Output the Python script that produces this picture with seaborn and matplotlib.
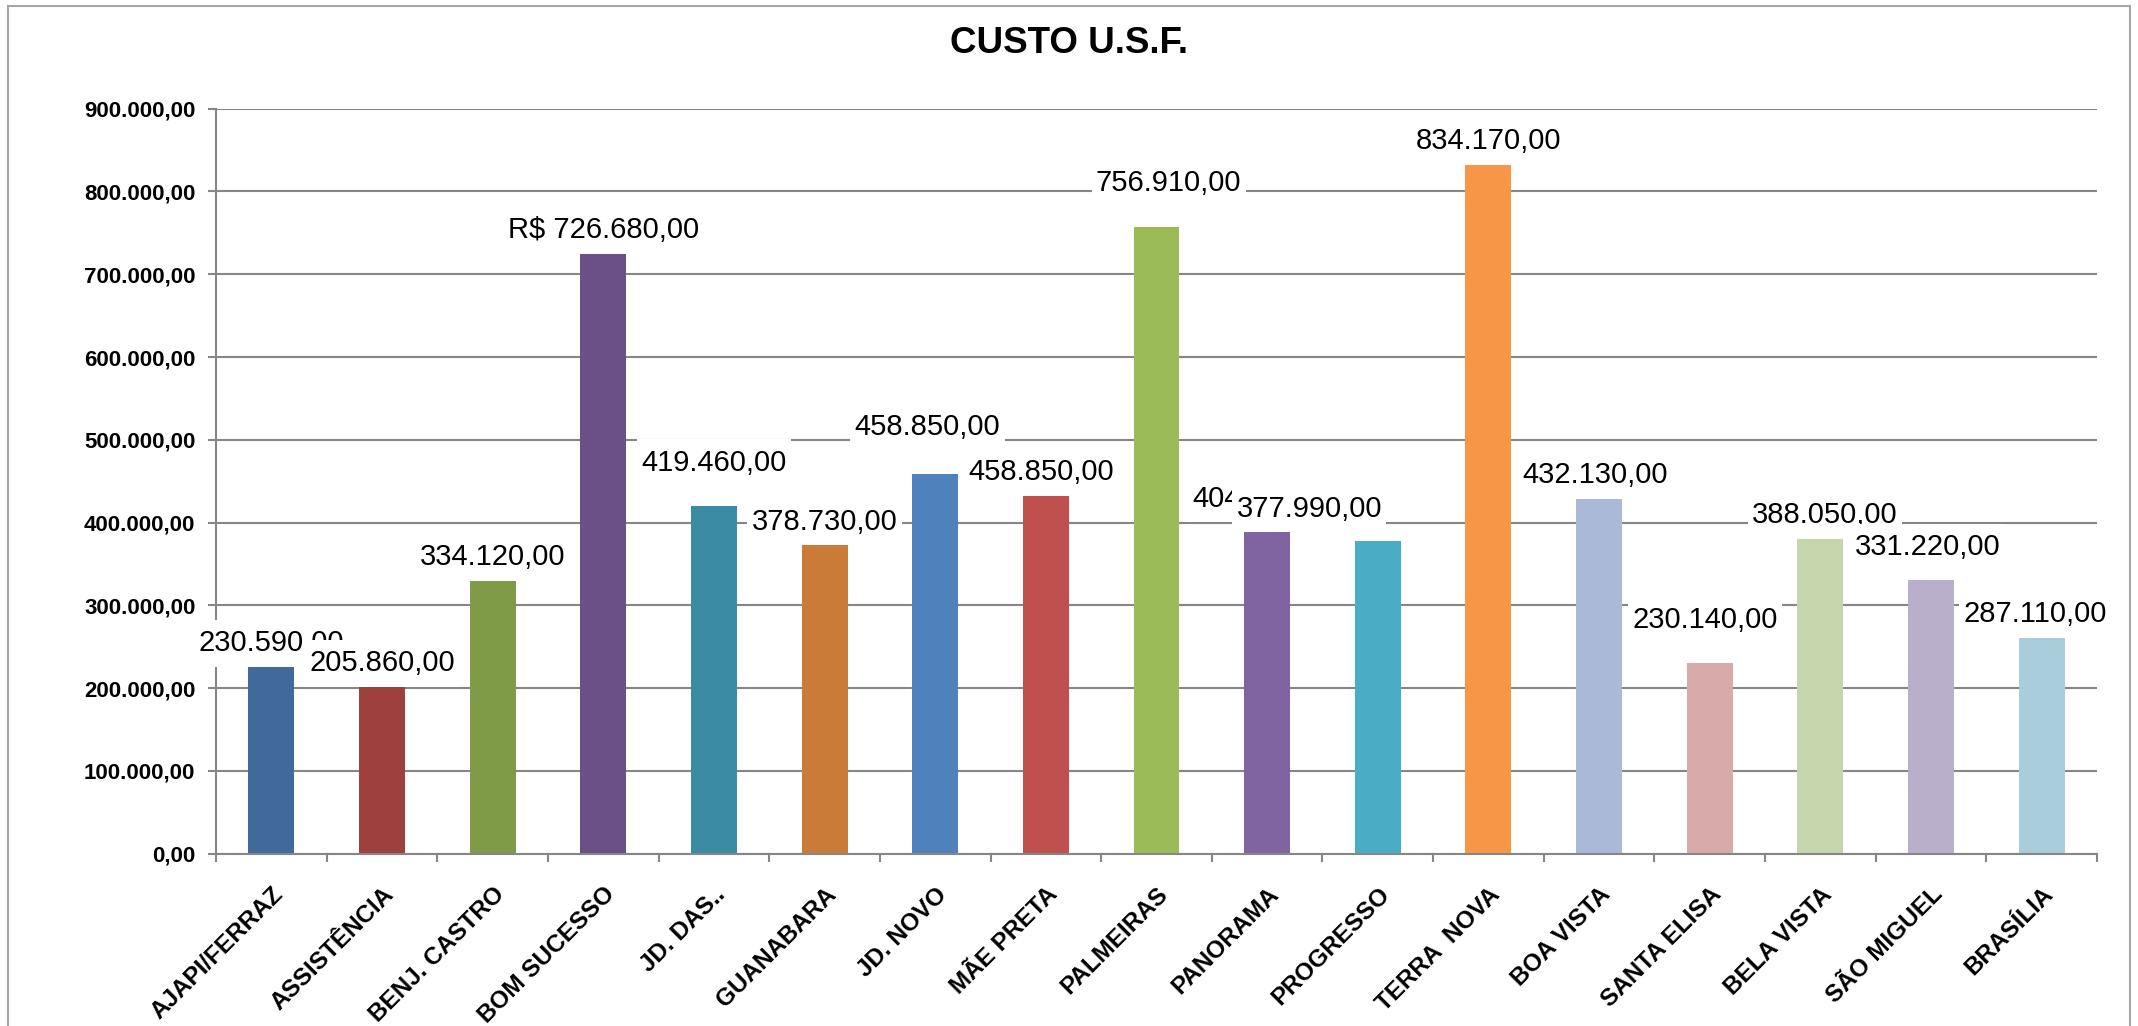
import matplotlib
matplotlib.use('Agg')
import matplotlib.pyplot as plt
import seaborn as sns
import pandas as pd
from matplotlib.ticker import FuncFormatter, FixedLocator
from matplotlib.lines import Line2D

# Data
units = ['AJAPI/FERRAZ', 'ASSISTÊNCIA', 'BENJ. CASTRO', 'BOM SUCESSO', 'JD. DAS..',
         'GUANABARA', 'JD. NOVO', 'MÃE PRETA', 'PALMEIRAS', 'PANORAMA', 'PROGRESSO',
         'TERRA  NOVA', 'BOA VISTA', 'SANTA ELISA', 'BELA VISTA', 'SÃO MIGUEL', 'BRASÍLIA']
costs = [230590, 205860, 334120, 726680, 419460, 378730, 458850, 443500, 756910,
         397000, 377990, 834170, 432130, 230140, 388050, 331220, 271500]
label_texts = ['230.590,00', '205.860,00', '334.120,00', 'R$ 726.680,00', '419.460,00',
               '378.730,00', '458.850,00', '458.850,00', '756.910,00', '404.460,00',
               '377.990,00', '834.170,00', '432.130,00', '230.140,00', '388.050,00',
               '331.220,00', '287.110,00']
bar_colors = ['#416A9B', '#9E403E', '#7F9B48', '#6A5086', '#3A8BA3', '#CB7B38',
              '#4F81BD', '#C0504D', '#9BBB59', '#8064A2', '#4BACC6', '#F79646',
              '#AAB9D7', '#D9AAAA', '#C6D6AC', '#B9AFCA', '#A9CDDB']

# where Excel left the (hand-moved) data labels
label_dx = [0, 0, 0, 0, 0, 0, -0.07, -0.04, 0.11, -0.02, -0.62, 0, -0.04, -0.04, 0.04, -0.03, -0.06]
label_y = [254e3, 230e3, 358e3, 753e3, 472e3, 401e3, 516e3, 461e3, 810e3, 429e3,
           417e3, 861e3, 457e3, 282e3, 409e3, 370e3, 289e3]

df = pd.DataFrame({'unidade': units, 'custo': costs})

W, H = 2138, 1026
fig = plt.figure(figsize=(W / 100, H / 100), dpi=100)
plt.rcParams['font.family'] = ['Liberation Sans', 'DejaVu Sans']

ax = fig.add_axes([216 / W, 1 - 853.7 / H, (2097 - 216) / W, (853.7 - 108.7) / H])

sns.barplot(data=df, x='unidade', y='custo', hue='unidade', palette=bar_colors,
            legend=False, width=0.415, saturation=1, ax=ax)

grid_col = '#868686'
ax.set_ylim(0, 900000)
ax.set_xlim(-0.5, len(units) - 0.5)
ax.yaxis.set_major_locator(FixedLocator(range(0, 900001, 100000)))
ax.yaxis.set_major_formatter(FuncFormatter(
    lambda v, p: f'{v:,.2f}'.replace(',', 'X').replace('.', ',').replace('X', '.')))
ax.grid(axis='y', color=grid_col, linewidth=1.5)
ax.set_axisbelow(True)
for s in ['top', 'right']:
    ax.spines[s].set_visible(False)
for s in ['left', 'bottom']:
    ax.spines[s].set_color(grid_col)
    ax.spines[s].set_linewidth(1.5)

ax.set_xlabel('')
ax.set_ylabel('')
ax.tick_params(axis='y', length=5.8, width=1.5, color=grid_col, pad=9, labelsize=16)
for t in ax.get_yticklabels():
    t.set_fontweight('bold')

ax.xaxis.set_minor_locator(FixedLocator([i - 0.5 for i in range(len(units) + 1)]))
ax.tick_params(axis='x', which='minor', length=5.8, width=1.5, color=grid_col, direction='out')
ax.tick_params(axis='x', which='major', length=0, pad=21, labelsize=17.5)
ax.set_xticks(range(len(units)))
ax.set_xticklabels(units, rotation=45, ha='right', va='top', rotation_mode='anchor',
                   fontweight='bold')

# data labels with white boxes (later ones sit on top of earlier ones)
for i, (txt, dx, yy) in enumerate(zip(label_texts, label_dx, label_y)):
    ax.text(i + dx, yy, txt, ha='center', va='center', fontsize=21, color='black',
            zorder=10 + i,
            bbox=dict(boxstyle='square,pad=0.15', facecolor='white', edgecolor='none',
                      mutation_aspect=2.2))

fig.suptitle('CUSTO U.S.F.', x=0.5, y=1 - 43.5 / H, va='center', fontsize=26.5,
             fontweight='bold')

# outer chart border
bc = '#A6A6A6'
fig.add_artist(Line2D([8 / W, 8 / W], [0, 1 - 6 / H], color=bc, lw=1.5, transform=fig.transFigure))
fig.add_artist(Line2D([8 / W, 2130 / W], [1 - 6 / H, 1 - 6 / H], color=bc, lw=1.5, transform=fig.transFigure))
fig.add_artist(Line2D([2130 / W, 2130 / W], [0, 1 - 6 / H], color=bc, lw=1.5, transform=fig.transFigure))

fig.savefig('out.png', dpi=100, facecolor='white')
